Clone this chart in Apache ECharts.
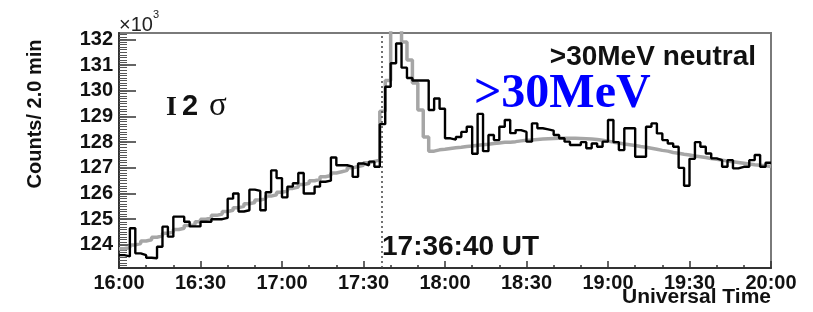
<!DOCTYPE html>
<html>
<head>
<meta charset="utf-8">
<script src="https://cdn.jsdelivr.net/npm/echarts@6/dist/echarts.min.js"></script>
<style>
  html, body { margin: 0; padding: 0; background: #fff; }
  #chart { width: 813px; height: 312px; }
</style>
</head>
<body>
<div id="chart"></div>
<script>
// 2 min bins from 16:00 to 20:00 UT, counts in units of 10^3
const binMinutes = 2
const xTickLabels = ['16:00', '16:30', '17:00', '17:30', '18:00', '18:30', '19:00', '19:30', '20:00']
const yTickValues = [124, 125, 126, 127, 128, 129, 130, 131, 132]
const onsetMinute = 96.667 // 17:36:40 UT

// measured counts (black)
const measuredCounts = [
  123.6, 123.55, 124.65, 123.67, 123.6, 123.5, 123.48, 123.93, 124.71, 124.32,
  125.1, 125.1, 124.9, 124.72, 124.72, 124.9, 124.9, 125.0, 125.0, 125.05,
  125.8, 126.0, 125.3, 125.35, 126.15, 126.1, 125.35, 126.05, 126.9, 126.6,
  125.85, 126.27, 126.4, 126.8, 126.0, 126.0, 126.27, 126.46, 126.5, 127.4,
  127.1, 127.1, 127.05, 126.65, 127.17, 127.1, 127.24, 127.04, 128.7, 130.16,
  131.07, 131.84, 130.9, 130.5, 130.4, 130.4, 130.4, 129.25, 129.7, 129.3,
  128.15, 128.1, 128.2, 128.4, 128.6, 127.55, 129.1, 127.65, 128.28, 128.08,
  128.6, 128.86, 128.35, 128.47, 128.4, 128.02, 128.73, 128.54, 128.5, 128.45,
  128.28, 128.15, 128.02, 127.89, 127.89, 128.0, 127.76, 127.95, 127.82, 128.02,
  128.86, 128.0, 127.69, 128.54, 128.54, 127.43, 127.43, 128.6, 128.73, 128.34,
  128.08, 127.95, 127.82, 127.0, 126.3, 127.35, 128.0, 127.82, 127.56, 127.37,
  127.3, 127.04, 127.3, 126.98, 127.04, 127.04, 127.3, 127.5, 127.04, 127.2,
]

// background + flare model (gray)
const modelCounts = [
  123.85, 123.9, 124.0, 124.05, 124.15, 124.2, 124.3, 124.35, 124.45, 124.5,
  124.6, 124.65, 124.75, 124.8, 124.9, 125.0, 125.05, 125.15, 125.2, 125.3,
  125.35, 125.45, 125.5, 125.6, 125.65, 125.75, 125.8, 125.9, 125.95, 126.05,
  126.1, 126.2, 126.25, 126.35, 126.4, 126.5, 126.55, 126.65, 126.7, 126.8,
  126.85, 126.9, 127.0, 127.05, 127.1, 127.2, 127.25, 127.3, 129.2, 130.4,
  132.8, 132.8, 131.9, 131.2, 130.3, 129.25, 128.2, 127.65, 127.7, 127.72,
  127.75, 127.78, 127.8, 127.83, 127.85, 127.88, 127.9, 127.92, 127.95, 127.97,
  128.0, 128.0, 128.02, 128.05, 128.07, 128.08, 128.1, 128.12, 128.13, 128.14,
  128.15, 128.15, 128.15, 128.15, 128.14, 128.13, 128.12, 128.1, 128.07, 128.04,
  128.0, 127.97, 127.93, 127.9, 127.87, 127.83, 127.8, 127.76, 127.72, 127.68,
  127.65, 127.6, 127.57, 127.53, 127.5, 127.46, 127.43, 127.4, 127.36, 127.33,
  127.3, 127.27, 127.24, 127.21, 127.18, 127.15, 127.12, 127.1, 127.08, 127.05,
]

const toSteps = arr => arr.map((v, i) => [i * binMinutes, v]).concat([[arr.length * binMinutes, arr[arr.length - 1]]])

const yMin = 123.1
const yMax = 132.25
const minorY = []
for (let t = 123.2; t < yMax; t += 0.1) minorY.push(+t.toFixed(1))

const font = 'Liberation Sans, Arial, sans-serif'
const serif = 'Liberation Serif, serif'
const chart = echarts.init(document.getElementById('chart'))
chart.setOption({
  animation: false,
  grid: {
    left: 119, right: 42, top: 33, bottom: 44,
    show: true, borderColor: '#7a7a7a', borderWidth: 2,
  },
  xAxis: {
    type: 'value', min: 0, max: 240, interval: 30,
    axisLine: { lineStyle: { color: '#333', width: 2 } },
    axisTick: { inside: true, length: 7, lineStyle: { color: '#333', width: 1.5 } },
    minorTick: { show: true, splitNumber: 3, length: 3, lineStyle: { color: '#333', width: 1.5 } },
    splitLine: { show: false },
    axisLabel: {
      margin: 5, color: '#111', fontFamily: font, fontWeight: 'bold', fontSize: 20,
      formatter: v => xTickLabels[Math.round(v / 30)],
    },
  },
  yAxis: [
    {
      type: 'value', min: yMin, max: yMax,
      axisLine: { show: true, lineStyle: { color: '#333', width: 2 } },
      axisTick: { inside: true, length: 17, customValues: yTickValues, lineStyle: { color: '#333', width: 1.5 } },
      splitLine: { show: false },
      axisLabel: {
        customValues: yTickValues, margin: 6, color: '#111',
        fontFamily: font, fontWeight: 'bold', fontSize: 20,
        formatter: v => String(Math.round(v)),
      },
    },
    {
      type: 'value', min: yMin, max: yMax, position: 'left',
      axisLine: { show: false },
      axisTick: { inside: true, length: 8, customValues: minorY, lineStyle: { color: '#555', width: 1 } },
      axisLabel: { show: false },
      splitLine: { show: false },
    },
  ],
  series: [
    {
      name: 'model', type: 'line', step: 'end', symbol: 'none',
      data: toSteps(modelCounts),
      lineStyle: { color: '#a6a6a6', width: 3.5 },
      z: 2,
    },
    {
      name: 'measured', type: 'line', step: 'end', symbol: 'none',
      data: toSteps(measuredCounts),
      lineStyle: { color: '#000', width: 2.4 },
      z: 3,
      markLine: {
        silent: true, symbol: ['none', 'none'], label: { show: false },
        lineStyle: { type: [2, 3], color: '#444', width: 1.5 },
        data: [{ xAxis: onsetMinute }],
      },
    },
  ],
  graphic: [
    {
      type: 'text', x: 35, y: 114, rotation: Math.PI / 2,
      style: { text: 'Counts/ 2.0 min', font: 'bold 20px ' + font, fill: '#111', align: 'center', verticalAlign: 'middle' },
    },
    {
      type: 'text', x: 119, y: 25,
      style: { text: '×10', font: '20px ' + font, fill: '#222', align: 'left', verticalAlign: 'middle' },
    },
    {
      type: 'text', x: 153, y: 15,
      style: { text: '3', font: '11px ' + font, fill: '#222', align: 'left', verticalAlign: 'middle' },
    },
    {
      type: 'text', x: 166, y: 108,
      style: { text: 'I', font: 'bold 28px ' + serif, fill: '#111', align: 'left', verticalAlign: 'middle' },
    },
    {
      type: 'text', x: 182, y: 107,
      style: { text: '2', font: 'bold 29px ' + font, fill: '#111', align: 'left', verticalAlign: 'middle' },
    },
    {
      type: 'text', x: 209, y: 106,
      style: { text: 'σ', font: '33px ' + serif, fill: '#111', align: 'left', verticalAlign: 'middle' },
    },
    {
      type: 'text', x: 756, y: 57,
      style: { text: '>30MeV neutral', font: 'bold 28px ' + font, fill: '#111', align: 'right', verticalAlign: 'middle' },
    },
    {
      type: 'text', x: 474, y: 95,
      style: { text: '>30MeV', font: 'bold 48px ' + serif, fill: '#0000ff', align: 'left', verticalAlign: 'middle' },
    },
    {
      type: 'text', x: 382, y: 247,
      style: { text: '17:36:40 UT', font: 'bold 28px ' + font, fill: '#111', align: 'left', verticalAlign: 'middle' },
    },
    {
      type: 'text', x: 771, y: 297,
      style: { text: 'Universal Time', font: 'bold 21px ' + font, fill: '#111', align: 'right', verticalAlign: 'middle' },
    },
  ],
})
</script>
</body>
</html>
